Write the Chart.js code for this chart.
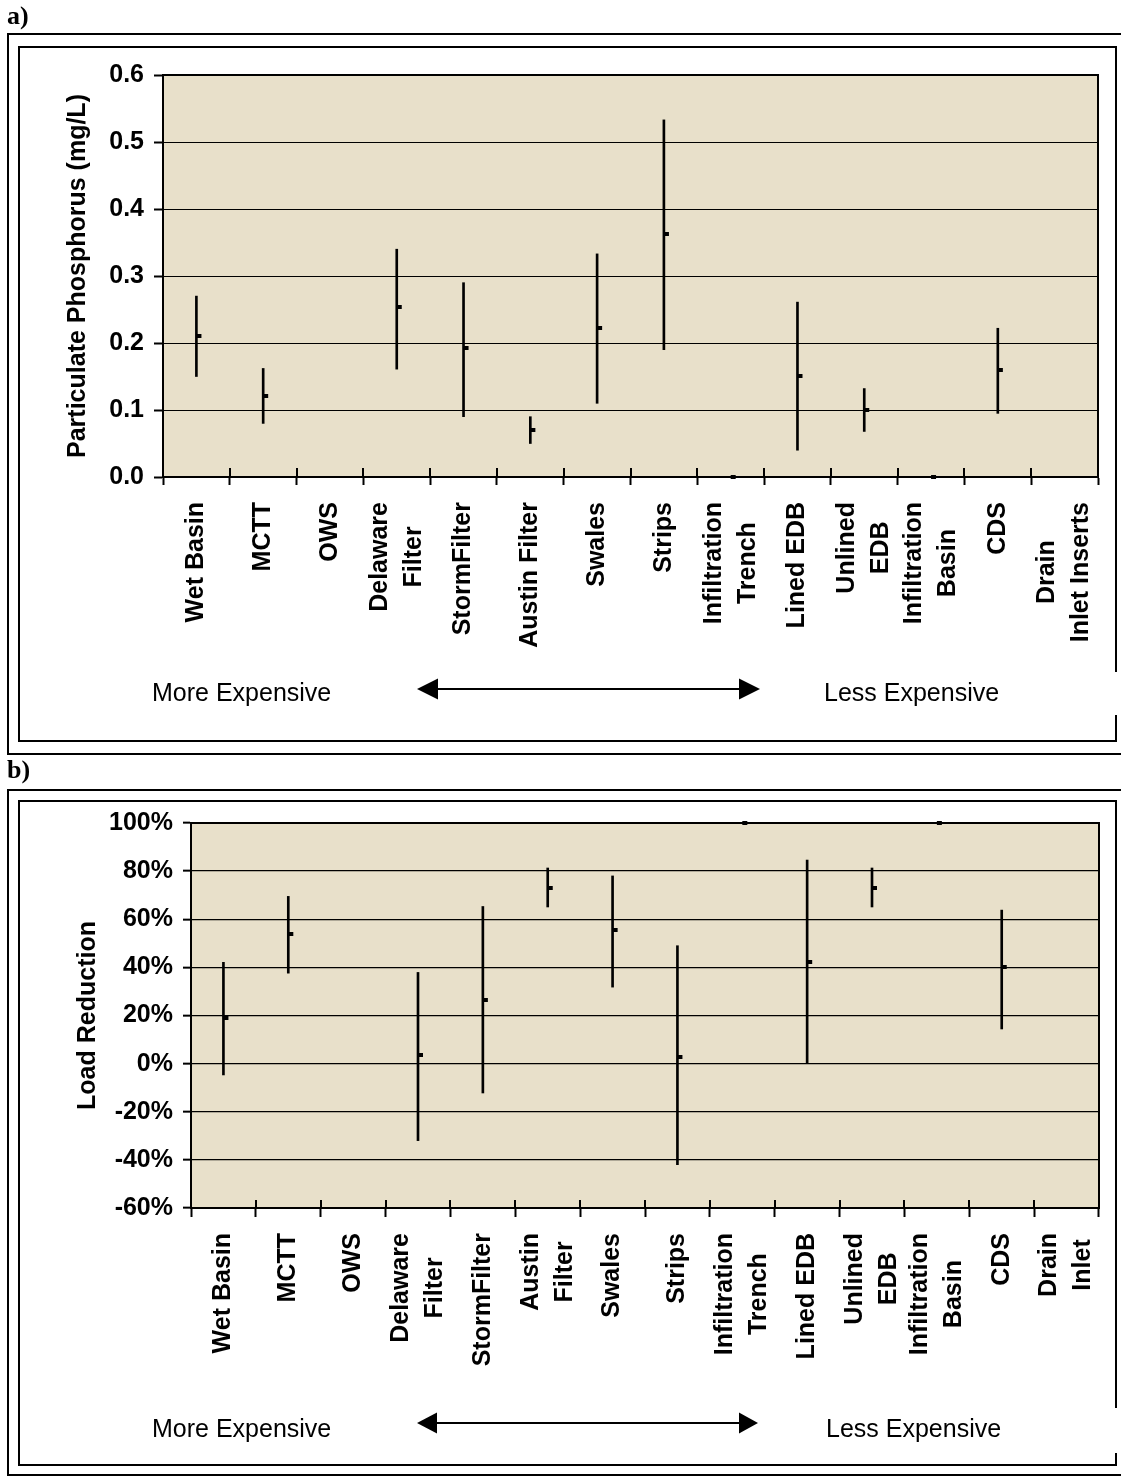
<!DOCTYPE html>
<html>
<head>
<meta charset="utf-8">
<title>Particulate phosphorus by BMP</title>
<script src="https://cdn.jsdelivr.net/npm/chart.js@4.4.1/dist/chart.umd.min.js"></script>
<style>
  html, body { margin: 0; padding: 0; background: #fff; }
  #page { position: relative; width: 1121px; height: 1477px; overflow: hidden; }
  .box { position: absolute; box-sizing: border-box; border: 2px solid #000; }
  .inner { border-right: none; }
  .edge { position: absolute; width: 2px; background: #000; }
  canvas { position: absolute; left: 0; }
  svg { position: absolute; left: 0; top: 0; }
</style>
</head>
<body>
<div id="page">
  <!-- panel a frames -->
  <div class="box" style="left:7px;top:33px;width:1130px;height:722px;"></div>
  <div class="box inner" style="left:18px;top:46px;width:1099px;height:696px;"></div>
  <div class="edge" style="left:1115px;top:46px;height:626px;"></div>
  <div class="edge" style="left:1115px;top:715px;height:27px;"></div>
  <!-- panel b frames -->
  <div class="box" style="left:7px;top:789px;width:1130px;height:687px;"></div>
  <div class="box inner" style="left:18px;top:800px;width:1099px;height:666px;"></div>
  <div class="edge" style="left:1115px;top:800px;height:608px;"></div>
  <div class="edge" style="left:1115px;top:1453px;height:13px;"></div>

  <canvas id="chartA" width="1121" height="745" style="top:0;"></canvas>
  <canvas id="chartB" width="1121" height="700" style="top:760px;"></canvas>

  <svg width="1121" height="1477" xmlns="http://www.w3.org/2000/svg">
    <g font-family="'Liberation Serif', 'Times New Roman', serif" font-weight="bold" font-size="26" fill="#000">
      <text x="7" y="24">a)</text>
      <text x="7" y="778">b)</text>
    </g>
    <g font-family="'Liberation Sans', Arial, sans-serif" font-size="25" fill="#000">
      <text x="152" y="701">More Expensive</text>
      <text x="824" y="701">Less Expensive</text>
      <text x="152" y="1437">More Expensive</text>
      <text x="826" y="1437">Less Expensive</text>
    </g>
    <g stroke="#000" stroke-width="2" fill="#000">
      <line x1="436" y1="689" x2="741" y2="689"/>
      <polygon points="417,689 438,678.5 438,699.5" stroke="none"/>
      <polygon points="760,689 739,678.5 739,699.5" stroke="none"/>
      <line x1="435" y1="1423" x2="741" y2="1423"/>
      <polygon points="417,1423 437,1412.5 437,1433.5" stroke="none"/>
      <polygon points="758,1423 739,1412.5 739,1433.5" stroke="none"/>
    </g>
  </svg>
</div>

<script>
// ---- categories (BMP types, ordered from more to less expensive) ----
const categoriesA = [
  ['Wet Basin'], ['MCTT'], ['OWS'], ['Delaware', 'Filter'], ['StormFilter'],
  ['Austin Filter'], ['Swales'], ['Strips'], ['Infiltration', 'Trench'], ['Lined EDB'],
  ['Unlined', 'EDB'], ['Infiltration', 'Basin'], ['CDS'], ['Drain', 'Inlet Inserts']
];
const categoriesB = [
  ['Wet Basin'], ['MCTT'], ['OWS'], ['Delaware', 'Filter'], ['StormFilter'],
  ['Austin', 'Filter'], ['Swales'], ['Strips'], ['Infiltration', 'Trench'], ['Lined EDB'],
  ['Unlined', 'EDB'], ['Infiltration', 'Basin'], ['CDS'], ['Drain', 'Inlet']
];

// ---- a) particulate phosphorus concentration (mg/L): range and mean ----
const phosMin  = [0.15, 0.08,  null, 0.161, 0.09,  0.05, 0.11,  0.19,  null, 0.04,  0.068, null, 0.095, null];
const phosMax  = [0.27, 0.162, null, 0.34,  0.29,  0.09, 0.333, 0.533, null, 0.261, 0.132, null, 0.222, null];
const phosMean = [0.21, 0.121, null, 0.253, 0.193, 0.07, 0.223, 0.363, 0,    0.151, 0.1,   0,    0.16,  null];

// ---- b) load reduction (%): range and mean ----
const loadMin  = [-4.7, 37.6, null, -32,  -12.2, 65.1, 31.8, -42,  null, 0,    65.1, null, 14.4, null];
const loadMax  = [42.1, 69.5, null, 37.9,  65.3, 81.3, 78,    49,  null, 84.6, 81.3, null, 63.8, null];
const loadMean = [19,   54,   null, 3.5,   26.6, 73.1, 55.7,  2.6, 100,  42.4, 73.1, 100,  40.1, null];

// ---- axis ranges ----
const phosAxisMin = 0, phosAxisMax = 0.6, phosAxisStep = 0.1;
const loadAxisMin = -60, loadAxisMax = 100, loadAxisStep = 20;

const FONT = '"Liberation Sans", Arial, Helvetica, sans-serif';
const PLOT_BG = '#E8E0CA';

// min/max pairs become floating bars (thin vertical range lines)
function ranges(lo, hi) {
  return lo.map((v, i) => (v === null || hi[i] === null) ? null : [v, hi[i]]);
}

// small mean tick drawn just right of the range line
const meanMarker = document.createElement('canvas');
meanMarker.width = 12;
meanMarker.height = 4;
(function () {
  const c = meanMarker.getContext('2d');
  c.fillStyle = '#000';
  c.fillRect(6, 0, 5, 4);
})();

// plot background plus the heavy top/right frame
const plotFrame = {
  id: 'plotFrame',
  beforeDraw(chart) {
    const { ctx, chartArea: a } = chart;
    ctx.save();
    ctx.fillStyle = PLOT_BG;
    ctx.fillRect(a.left, a.top, a.right - a.left, a.bottom - a.top);
    ctx.restore();
  },
  beforeDatasetsDraw(chart) {
    const { ctx, chartArea: a } = chart;
    ctx.save();
    ctx.strokeStyle = '#000';
    ctx.lineWidth = 2;
    ctx.beginPath();
    ctx.moveTo(a.left, a.top);
    ctx.lineTo(a.right, a.top);
    ctx.lineTo(a.right, a.bottom);
    ctx.stroke();
    ctx.restore();
  }
};

// category ticks on the x axis also poke up into the plot
const inwardTicks = {
  id: 'inwardTicks',
  afterDatasetsDraw(chart, args, opts) {
    const { ctx, chartArea: a } = chart;
    const xs = chart.scales.x;
    const n = chart.data.labels.length;
    ctx.save();
    ctx.strokeStyle = '#000';
    ctx.lineWidth = 2;
    ctx.beginPath();
    for (let i = 0; i <= n; i++) {
      const px = Math.round(xs.getPixelForValue(i - 0.5));
      ctx.moveTo(px, a.bottom);
      ctx.lineTo(px, a.bottom - opts.length);
    }
    ctx.stroke();
    ctx.restore();
  }
};

// vertical, wrapped category names under the x axis
const categoryLabels = {
  id: 'categoryLabels',
  afterDraw(chart, args, opts) {
    const { ctx, chartArea: a } = chart;
    const xs = chart.scales.x;
    ctx.save();
    ctx.font = 'bold 25px ' + FONT;
    ctx.fillStyle = '#000';
    ctx.textAlign = 'center';
    ctx.textBaseline = 'middle';
    chart.data.labels.forEach((lines, i) => {
      const cx = xs.getPixelForValue(i);
      const len = Math.max(...lines.map(l => ctx.measureText(l).width));
      const cy = a.bottom + opts.gap + len / 2;
      lines.forEach((line, j) => {
        const lx = cx + (j - (lines.length - 1) / 2) * opts.lineHeight;
        ctx.save();
        ctx.translate(lx, cy);
        ctx.rotate(-Math.PI / 2);
        ctx.fillText(line, 0, 0);
        ctx.restore();
      });
    });
    ctx.restore();
  }
};

function makePanel(id, cfg) {
  return new Chart(document.getElementById(id), {
    type: 'bar',
    data: {
      labels: cfg.labels,
      datasets: [
        {
          type: 'bar',
          data: ranges(cfg.min, cfg.max),
          backgroundColor: '#000',
          borderWidth: 0,
          barThickness: 2,
          order: 2
        },
        {
          type: 'line',
          data: cfg.mean,
          showLine: false,
          pointStyle: meanMarker,
          pointRadius: 3,
          clip: false,
          order: 1
        }
      ]
    },
    options: {
      responsive: false,
      animation: false,
      events: [],
      layout: { padding: cfg.padding },
      plugins: {
        legend: { display: false },
        tooltip: { enabled: false },
        inwardTicks: { length: cfg.inTick },
        categoryLabels: { gap: 25, lineHeight: 34 }
      },
      scales: {
        x: {
          type: 'category',
          offset: true,
          grid: {
            offset: true, drawOnChartArea: false, drawTicks: true,
            tickLength: cfg.outTick, tickWidth: 2, tickColor: '#000'
          },
          border: { display: true, color: '#000', width: 2 },
          ticks: { display: false },
          afterFit(s) { s.height = cfg.xHeight; }
        },
        y: {
          min: cfg.yMin,
          max: cfg.yMax,
          ticks: {
            stepSize: cfg.yStep,
            color: '#000',
            padding: 10,
            font: { family: FONT, size: 25, weight: 'bold' },
            callback: cfg.fmt
          },
          grid: {
            color: '#000', lineWidth: cfg.gridWidth,
            tickLength: cfg.yTick, tickWidth: 2, tickColor: '#000'
          },
          border: { display: true, color: '#000', width: 2 },
          title: {
            display: true,
            text: cfg.title,
            color: '#000',
            font: { family: FONT, size: 25, weight: 'bold' },
            padding: { top: cfg.titlePad, bottom: 0 }
          },
          afterFit(s) { s.width = cfg.yWidth; }
        }
      }
    },
    plugins: [plotFrame, inwardTicks, categoryLabels]
  });
}

makePanel('chartA', {
  labels: categoriesA,
  min: phosMin, max: phosMax, mean: phosMean,
  yMin: phosAxisMin, yMax: phosAxisMax, yStep: phosAxisStep,
  fmt: v => Number(v).toFixed(1),
  title: 'Particulate Phosphorus (mg/L)',
  padding: { top: 75, right: 23, bottom: 0, left: 0 },
  xHeight: 268, yWidth: 163, titlePad: 63,
  outTick: 8, inTick: 9, yTick: 9, gridWidth: 1
});

makePanel('chartB', {
  labels: categoriesB,
  min: loadMin, max: loadMax, mean: loadMean,
  yMin: loadAxisMin, yMax: loadAxisMax, yStep: loadAxisStep,
  fmt: v => v + '%',
  title: 'Load Reduction',
  padding: { top: 63, right: 22, bottom: 0, left: 0 },
  xHeight: 252, yWidth: 191, titlePad: 73,
  outTick: 9, inTick: 8, yTick: 8, gridWidth: 1.3
});
</script>
</body>
</html>
